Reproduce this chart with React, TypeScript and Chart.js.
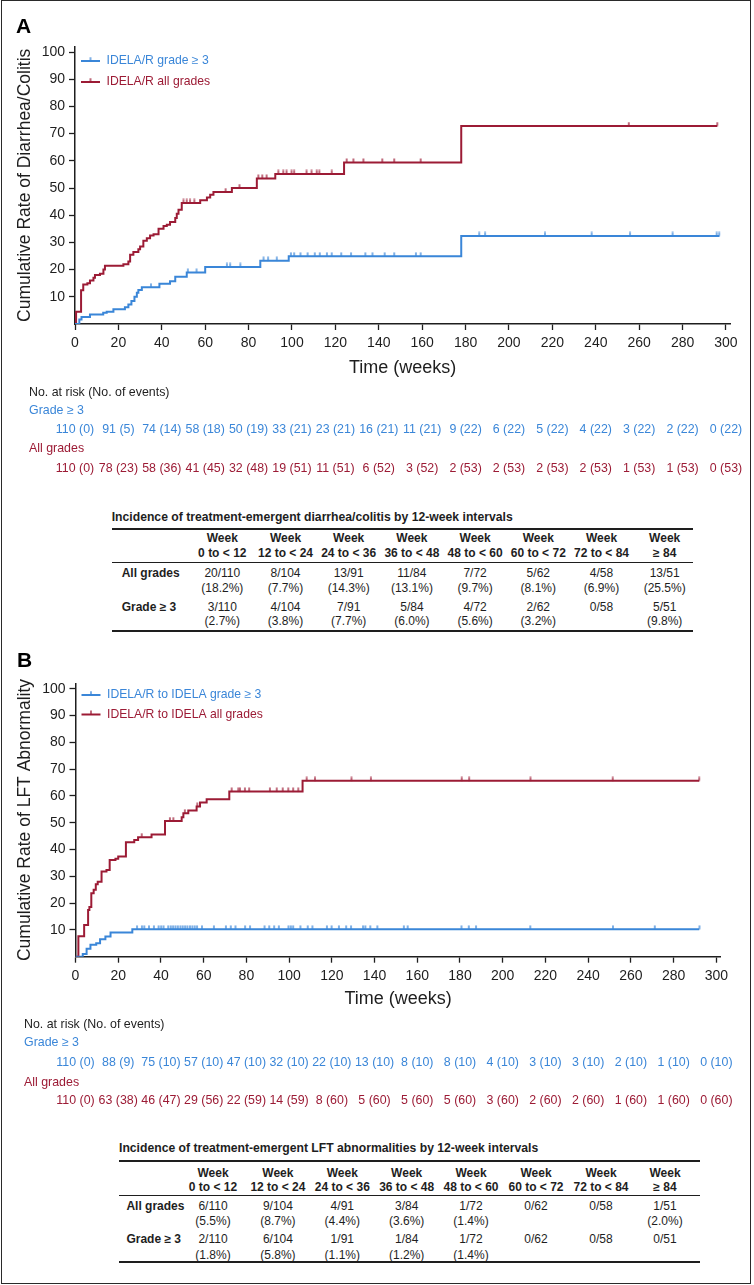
import React, { useEffect, useRef } from "react";
import { Chart, registerables } from "chart.js";
Chart.register(...registerables);

const BLUE = "#3a86d8";
const RED = "#9c1b35";
const INK = "#1e1e1e";
const FONT = '"Liberation Sans", Arial, Helvetica, sans-serif';

const X_TICKS = [0, 20, 40, 60, 80, 100, 120, 140, 160, 180, 200, 220, 240, 260, 280, 300];
const Y_TICKS = [10, 20, 30, 40, 50, 60, 70, 80, 90, 100];

// ---- Panel A: diarrhea/colitis ----
const A_G3_T = [0, 2, 3, 6.9, 13, 14.6, 17.7, 23, 24.6, 26, 27.4, 28.5, 29.2, 30.8, 38.9, 43.8, 46.2, 51.5, 60, 85.4, 98.5, 178, 297];
const A_G3_V = [0, 1.7, 2.6, 3.5, 4.1, 4.5, 5.4, 6.2, 7.2, 8.5, 10, 11.5, 12.5, 13.5, 14.8, 15.7, 17.4, 18.9, 21, 23.3, 24.9, 32.4, 32.4];
const A_ALL_T = [0, 0.5, 2.8, 3.8, 5.7, 6.9, 8.5, 9.2, 11.5, 13.1, 13.8, 22.3, 24.6, 25.4, 26.9, 29.2, 30, 31.5, 33.1, 34.6, 36.2, 38.5, 40.8, 42.3, 43.8, 46.2, 46.9, 47.7, 49.2, 57.7, 60.8, 62.3, 63.8, 72.3, 83.8, 92.3, 124, 178, 296];
const A_ALL_V = [0, 4.5, 12.4, 14.5, 15, 16, 17, 18, 18.5, 20, 21.4, 22, 23, 25.5, 26.5, 27.5, 28.5, 30.6, 31.5, 32.5, 33, 35, 36, 36.5, 37.5, 39, 40.5, 42, 44.5, 45.5, 46.5, 47.5, 48.5, 50, 53.5, 55.2, 59.4, 72.8, 72.8];
const A_G3_CENSOR = [35, 52, 56, 70, 71.5, 76.2, 86.9, 89, 93, 99.5, 101, 103.9, 107.2, 110.5, 112.8, 116.1, 118.3, 122.7, 127.2, 133.8, 137.1, 142.7, 147.1, 157.1, 159.3, 186.3, 189, 216.6, 238.1, 255.8, 275.4, 295.7, 296.9];
const A_ALL_CENSOR = [50, 51.5, 53, 55, 69.4, 75.8, 84.5, 86.3, 88.3, 93.7, 96, 97.5, 99.8, 101, 106.7, 109, 111.4, 112.6, 118.3, 125.2, 128.3, 132.9, 141.6, 147.1, 159.3, 255.2, 296];
const A_G3_RISK = [110, 91, 74, 58, 50, 33, 23, 16, 11, 9, 6, 5, 4, 3, 2, 0];
const A_G3_EVENTS = [0, 5, 14, 18, 19, 21, 21, 21, 21, 22, 22, 22, 22, 22, 22, 22];
const A_ALL_RISK = [110, 78, 58, 41, 32, 19, 11, 6, 3, 2, 2, 2, 2, 1, 1, 0];
const A_ALL_EVENTS = [0, 23, 36, 45, 48, 51, 51, 52, 52, 53, 53, 53, 53, 53, 53, 53];

// ---- Panel B: LFT abnormality ----
const B_G3_T = [0, 3.4, 5.2, 7, 9.7, 11.5, 14, 16.4, 26.6, 292];
const B_G3_V = [0, 1, 3, 4.5, 5, 6.5, 7.5, 9, 10.2, 10.2];
const B_ALL_T = [0, 1.35, 4.05, 5.9, 6.5, 7.4, 8.5, 9.5, 10.4, 12.2, 14.5, 16, 18.7, 20, 23.6, 27.5, 29.3, 35.6, 41.9, 49.7, 50.5, 52.8, 56.7, 58.3, 61.4, 72, 106.3, 292];
const B_ALL_V = [0, 7.6, 11.8, 17.4, 18.5, 23.7, 25, 27, 28, 31.8, 32.3, 36.1, 36.5, 37.4, 42.7, 43.5, 44.6, 45.6, 50.6, 52, 53.5, 54.5, 56, 57.5, 58.7, 61.6, 65.6, 65.6];
const B_G3_CENSOR = [28.8, 31.1, 32.2, 34.4, 36.7, 38.9, 40.1, 41.2, 43.4, 44.6, 45.7, 46.8, 47.9, 49.1, 50.2, 51.3, 52.4, 53.6, 54.7, 55.8, 56.9, 59.2, 64.8, 70.4, 72.7, 74.9, 79.4, 81.7, 88.5, 90.7, 93, 95.2, 99.7, 100.8, 101.9, 105.3, 108.7, 110.9, 117.7, 119.9, 123.3, 126.7, 129, 134.6, 135.7, 138, 141.3, 153.7, 155.5, 180.7, 184.1, 187.5, 212.9, 251.6, 271.2, 292.1];
const B_ALL_CENSOR = [31, 44.2, 45.8, 51.2, 57, 73.1, 76.2, 77, 79.3, 81.3, 91, 94.2, 97, 99.6, 101.9, 104.3, 108.2, 112.1, 129.2, 138.3, 180.8, 184.3, 213, 251.5, 292];
const B_G3_RISK = [110, 88, 75, 57, 47, 32, 22, 13, 8, 8, 4, 3, 3, 2, 1, 0];
const B_G3_EVENTS = [0, 9, 10, 10, 10, 10, 10, 10, 10, 10, 10, 10, 10, 10, 10, 10];
const B_ALL_RISK = [110, 63, 46, 29, 22, 14, 8, 5, 5, 5, 3, 2, 2, 1, 1, 0];
const B_ALL_EVENTS = [0, 38, 47, 56, 59, 59, 60, 60, 60, 60, 60, 60, 60, 60, 60, 60];

// ---- Incidence tables ----
const INC_INTERVALS = ["0 to < 12", "12 to < 24", "24 to < 36", "36 to < 48", "48 to < 60", "60 to < 72", "72 to < 84", "\u2265 84"];
const A_INC_ALL = ["20/110", "8/104", "13/91", "11/84", "7/72", "5/62", "4/58", "13/51"];
const A_INC_ALL_PCT = ["18.2%", "7.7%", "14.3%", "13.1%", "9.7%", "8.1%", "6.9%", "25.5%"];
const A_INC_G3 = ["3/110", "4/104", "7/91", "5/84", "4/72", "2/62", "0/58", "5/51"];
const A_INC_G3_PCT = ["2.7%", "3.8%", "7.7%", "6.0%", "5.6%", "3.2%", "", "9.8%"];
const B_INC_ALL = ["6/110", "9/104", "4/91", "3/84", "1/72", "0/62", "0/58", "1/51"];
const B_INC_ALL_PCT = ["5.5%", "8.7%", "4.4%", "3.6%", "1.4%", "", "", "2.0%"];
const B_INC_G3 = ["2/110", "6/104", "1/91", "1/84", "1/72", "0/62", "0/58", "0/51"];
const B_INC_G3_PCT = ["1.8%", "5.8%", "1.1%", "1.2%", "1.4%", "", "", ""];

function stepAt(ts: number[], vs: number[], t: number) {
  let v = vs[0];
  for (let i = 0; i < ts.length; i++) if (ts[i] <= t) v = vs[i];
  return v;
}

function makeTickImg(color: string) {
  const c = document.createElement("canvas");
  c.width = 4;
  c.height = 9;
  const g = c.getContext("2d")!;
  g.strokeStyle = color;
  g.lineWidth = 1.3;
  g.beginPath();
  g.moveTo(2, 0.5);
  g.lineTo(2, 4.5);
  g.stroke();
  return c;
}

const PANEL_A = {
  top: 0, height: 480,
  areaLeft: 75, areaRight: 730.3, areaTop: 46.6, areaBottom: 324,
  letter: "A", letterX: 16, letterY: 33,
  yTitle: "Cumulative Rate of Diarrhea/Colitis", yTitleX: 30,
  xTitleY: 373,
  legendY: [61, 82],
  legendLabels: ["IDELA/R grade \u2265 3", "IDELA/R all grades"],
  riskX: 29, riskY: [392.7, 411, 430, 449, 468.3],
  g3: [A_G3_T, A_G3_V, A_G3_CENSOR, A_G3_RISK, A_G3_EVENTS],
  all: [A_ALL_T, A_ALL_V, A_ALL_CENSOR, A_ALL_RISK, A_ALL_EVENTS],
};
const PANEL_B = {
  top: 640, height: 480,
  areaLeft: 75.5, areaRight: 720.6, areaTop: 43.3, areaBottom: 316.7,
  letter: "B", letterX: 17, letterY: 27,
  yTitle: "Cumulative Rate of LFT Abnormality", yTitleX: 30,
  xTitleY: 364,
  legendY: [55, 74.5],
  legendLabels: ["IDELA/R to IDELA grade \u2265 3", "IDELA/R to IDELA all grades"],
  riskX: 24, riskY: [384.3, 402.7, 422.3, 442.3, 460.7],
  g3: [B_G3_T, B_G3_V, B_G3_CENSOR, B_G3_RISK, B_G3_EVENTS],
  all: [B_ALL_T, B_ALL_V, B_ALL_CENSOR, B_ALL_RISK, B_ALL_EVENTS],
};

function KMPanel({ cfg }: { cfg: any }) {
  const ref = useRef<HTMLCanvasElement>(null);
  useEffect(() => {
    const tickBlue = makeTickImg(BLUE);
    const tickRed = makeTickImg(RED);
    const [gT, gV, gC, gR, gE] = cfg.g3;
    const [aT, aV, aC, aR, aE] = cfg.all;
    const pts = (ts: number[], vs: number[]) => ts.map((t, i) => ({ x: t, y: vs[i] }));
    const cens = (cs: number[], ts: number[], vs: number[]) => cs.map((t) => ({ x: t, y: stepAt(ts, vs, t) }));

    const overlay = {
      id: "overlay",
      afterDraw(chart: any) {
        const ctx = chart.ctx;
        const a = chart.chartArea;
        const xs = chart.scales.x;
        ctx.save();
        ctx.fillStyle = "#000";
        ctx.font = `bold 21px ${FONT}`;
        ctx.textAlign = "left";
        ctx.textBaseline = "alphabetic";
        ctx.fillText(cfg.letter, cfg.letterX, cfg.letterY);
        ctx.save();
        ctx.translate(cfg.yTitleX, (a.top + a.bottom) / 2);
        ctx.rotate(-Math.PI / 2);
        ctx.font = `17.5px ${FONT}`;
        ctx.fillStyle = INK;
        ctx.textAlign = "center";
        ctx.fillText(cfg.yTitle, 0, 0);
        ctx.restore();
        ctx.font = `18px ${FONT}`;
        ctx.fillStyle = INK;
        ctx.textAlign = "center";
        ctx.fillText("Time (weeks)", (a.left + a.right) / 2, cfg.xTitleY);
        const cols = [BLUE, RED];
        const imgs = [tickBlue, tickRed];
        ctx.font = `12.2px ${FONT}`;
        ctx.textAlign = "left";
        ctx.textBaseline = "middle";
        cfg.legendLabels.forEach((lab: string, i: number) => {
          const y = cfg.legendY[i];
          ctx.strokeStyle = cols[i];
          ctx.lineWidth = 2;
          ctx.beginPath();
          ctx.moveTo(a.left + 6, y);
          ctx.lineTo(a.left + 25, y);
          ctx.stroke();
          ctx.drawImage(imgs[i], a.left + 15.5 - 2, y - 4.5);
          ctx.fillStyle = cols[i];
          ctx.fillText(lab, a.left + 31.5, y);
        });
        ctx.font = `12.4px ${FONT}`;
        ctx.fillStyle = INK;
        ctx.fillText("No. at risk (No. of events)", cfg.riskX, cfg.riskY[0]);
        ctx.fillStyle = BLUE;
        ctx.fillText("Grade \u2265 3", cfg.riskX, cfg.riskY[1]);
        ctx.fillStyle = RED;
        ctx.fillText("All grades", cfg.riskX, cfg.riskY[3]);
        ctx.textAlign = "center";
        X_TICKS.forEach((w, i) => {
          const px = xs.getPixelForValue(w);
          ctx.fillStyle = BLUE;
          ctx.fillText(`${gR[i]} (${gE[i]})`, px, cfg.riskY[2]);
          ctx.fillStyle = RED;
          ctx.fillText(`${aR[i]} (${aE[i]})`, px, cfg.riskY[4]);
        });
        ctx.restore();
      },
    };

    const axisCommon = {
      grid: { drawOnChartArea: false, drawTicks: true, tickLength: 6, tickColor: INK, tickWidth: 1.3 },
      border: { display: true, color: INK, width: 1.5 },
    };

    const chart = new Chart(ref.current!, {
      type: "line",
      data: {
        datasets: [
          { data: pts(gT, gV), borderColor: BLUE, borderWidth: 2, stepped: "before", pointRadius: 0, fill: false },
          { data: pts(aT, aV), borderColor: RED, borderWidth: 2, stepped: "before", pointRadius: 0, fill: false },
          { data: cens(gC, gT, gV), showLine: false, pointStyle: tickBlue, pointRadius: 3, borderColor: BLUE },
          { data: cens(aC, aT, aV), showLine: false, pointStyle: tickRed, pointRadius: 3, borderColor: RED },
        ] as any,
      },
      options: {
        animation: false,
        responsive: false,
        maintainAspectRatio: false,
        events: [],
        layout: { padding: { top: cfg.areaTop, right: 754 - cfg.areaRight, bottom: 0, left: 0 } },
        plugins: { legend: { display: false }, tooltip: { enabled: false } },
        scales: {
          x: {
            type: "linear",
            min: 0,
            max: 302,
            afterBuildTicks: (s: any) => { s.ticks = X_TICKS.map((v) => ({ value: v })); },
            afterFit: (s: any) => { s.height = cfg.height - cfg.areaBottom; },
            ticks: { autoSkip: false, maxRotation: 0, padding: 5, color: INK, font: { family: FONT, size: 14 }, callback: (v: any) => String(v) },
            ...axisCommon,
          },
          y: {
            type: "linear",
            min: 0,
            max: 102,
            afterBuildTicks: (s: any) => { s.ticks = Y_TICKS.map((v) => ({ value: v })); },
            afterFit: (s: any) => { s.width = cfg.areaLeft; },
            ticks: { padding: 4, color: INK, font: { family: FONT, size: 14 }, callback: (v: any) => String(v) },
            ...axisCommon,
          },
        },
      } as any,
      plugins: [overlay],
    });
    return () => chart.destroy();
  }, []);
  return (
    <canvas
      ref={ref}
      width={754}
      height={cfg.height}
      style={{ position: "absolute", left: 0, top: cfg.top, width: 754, height: cfg.height }}
    />
  );
}

const TABLE_A = {
  title: "Incidence of treatment-emergent diarrhea/colitis by 12-week intervals",
  titleX: 111.7, titleY: 516.7,
  x0: 111.7, x1: 693,
  ruleTop: 529, ruleMid: 562.7, ruleBottom: 630.7,
  headY: [538.3, 553.3],
  rowY: [[573.3, 587.7], [606.7, 621]],
  labelX: 121.7,
  colX: [222.3, 285.5, 348.7, 411.9, 475.1, 538.3, 601.5, 664.7],
  rows: [
    { label: "All grades", n: A_INC_ALL, p: A_INC_ALL_PCT },
    { label: "Grade \u2265 3", n: A_INC_G3, p: A_INC_G3_PCT },
  ],
};
const TABLE_B = {
  title: "Incidence of treatment-emergent LFT abnormalities by 12-week intervals",
  titleX: 119, titleY: 1148.3,
  x0: 119, x1: 699.5,
  ruleTop: 1161, ruleMid: 1195.7, ruleBottom: 1262.3,
  headY: [1172.7, 1187.3],
  rowY: [[1206, 1220.7], [1239.3, 1255]],
  labelX: 126.4,
  colX: [213, 277.9, 342.3, 406.7, 471, 536, 601, 665],
  rows: [
    { label: "All grades", n: B_INC_ALL, p: B_INC_ALL_PCT },
    { label: "Grade \u2265 3", n: B_INC_G3, p: B_INC_G3_PCT },
  ],
};

function Txt({ x, y, children, bold, align = "center", size = 12 }: any) {
  const tx = align === "center" ? "-50%" : "0";
  return (
    <div
      style={{
        position: "absolute",
        left: x,
        top: y,
        transform: `translate(${tx}, -50%)`,
        fontFamily: FONT,
        fontSize: size,
        fontWeight: bold ? 700 : 400,
        lineHeight: 1,
        whiteSpace: "nowrap",
        color: INK,
      }}
    >
      {children}
    </div>
  );
}

function Rule({ x0, x1, y, h }: any) {
  return <div style={{ position: "absolute", left: x0, top: y - h / 2, width: x1 - x0, height: h, background: INK }} />;
}

function IncTable({ t }: { t: any }) {
  return (
    <>
      <Txt x={t.titleX} y={t.titleY} bold align="left" size={12.2}>{t.title}</Txt>
      <Rule x0={t.x0} x1={t.x1} y={t.ruleTop} h={2} />
      <Rule x0={t.x0} x1={t.x1} y={t.ruleMid} h={1.4} />
      <Rule x0={t.x0} x1={t.x1} y={t.ruleBottom} h={2} />
      {INC_INTERVALS.map((lab, i) => (
        <React.Fragment key={"h" + i}>
          <Txt x={t.colX[i]} y={t.headY[0]} bold>Week</Txt>
          <Txt x={t.colX[i]} y={t.headY[1]} bold>{lab}</Txt>
        </React.Fragment>
      ))}
      {t.rows.map((r: any, ri: number) => (
        <React.Fragment key={"r" + ri}>
          <Txt x={t.labelX} y={t.rowY[ri][0]} bold align="left">{r.label}</Txt>
          {r.n.map((v: string, i: number) => (
            <React.Fragment key={i}>
              <Txt x={t.colX[i]} y={t.rowY[ri][0]}>{v}</Txt>
              {r.p[i] ? <Txt x={t.colX[i]} y={t.rowY[ri][1]}>({r.p[i]})</Txt> : null}
            </React.Fragment>
          ))}
        </React.Fragment>
      ))}
    </>
  );
}

export default function App() {
  return (
    <div style={{ position: "absolute", left: 0, top: 0, width: 754, height: 1285, background: "#fff", overflow: "hidden" }}>
      <div style={{ position: "absolute", left: 1, top: 0, width: 750, height: 1284, border: "1.5px solid #2a2a2a", boxSizing: "border-box" }} />
      <KMPanel cfg={PANEL_A} />
      <KMPanel cfg={PANEL_B} />
      <IncTable t={TABLE_A} />
      <IncTable t={TABLE_B} />
    </div>
  );
}
